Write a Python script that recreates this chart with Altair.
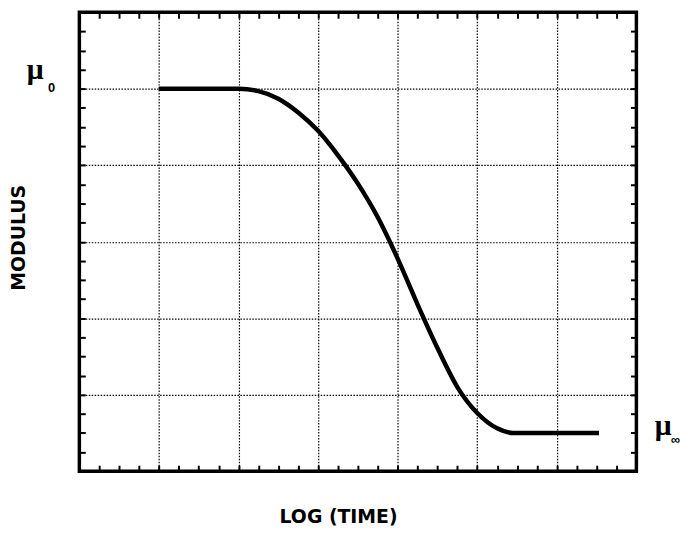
import altair as alt
import pandas as pd

# relaxation curve (log time vs modulus)
curve_x = [1.0, 2.0, 2.25, 2.5, 2.75, 3.0, 3.25, 3.5, 3.75, 4.0, 4.25, 4.5, 4.75, 5.0, 5.25, 5.45, 6.53]
curve_y = [5.0, 5.0, 4.97, 4.87, 4.69, 4.45, 4.13, 3.76, 3.32, 2.78, 2.18, 1.61, 1.1, 0.76, 0.56, 0.5, 0.5]

grid_x = [1, 2, 3, 4, 5, 6]
grid_y = [1, 2, 3, 4, 5]
tick_x = [i * 0.25 for i in range(1, 28)]
tick_y = [i * 0.25 for i in range(1, 24)]

# plot frame (data extent)
frame_x = [0]
frame_x2 = [7]
frame_y = [0]
frame_y2 = [6]

# labels: main symbol and subscript
mu_x = [-0.554, 7.335]
mu_y = [5.13, 0.47]
mu_text = ["μ", "μ"]
sub_x = [-0.35, 7.49]
sub_y = [4.96, 0.36]
sub_text = ["0", "∞"]

df = pd.DataFrame({"x": curve_x, "y": curve_y})
df_frame = pd.DataFrame({"x": frame_x, "x2": frame_x2, "y": frame_y, "y2": frame_y2})
df_mu = pd.DataFrame({"x": mu_x, "y": mu_y, "t": mu_text})
df_sub = pd.DataFrame({"x": sub_x, "y": sub_y, "t": sub_text})

xs = alt.Scale(domain=[0, 7], nice=False, zero=False)
ys = alt.Scale(domain=[0, 6], nice=False, zero=False)

title_style = dict(titleFont="DejaVu Sans", titleFontSize=19, titleFontWeight="bold",
                   titleColor="black", titleAlign="center", titleBaseline="alphabetic")

grid_common = dict(grid=True, gridDash=[1.5, 1.5], gridColor="black", gridWidth=1.2, gridOpacity=1,
                   ticks=False, labels=False, domain=False)

curve = alt.Chart(df).mark_line(color="black", strokeWidth=4.5, interpolate="monotone").encode(
    x=alt.X("x:Q", scale=xs,
            axis=alt.Axis(orient="bottom", values=grid_x, title="LOG (TIME)",
                          titleX=261, titleY=52, titleAngle=0, **title_style, **grid_common)),
    y=alt.Y("y:Q", scale=ys,
            axis=alt.Axis(orient="left", values=grid_y, title="MODULUS",
                          titleX=-55, titleY=227, titleAngle=270, **title_style, **grid_common)),
)

tick_common = dict(tickSize=6, tickWidth=2, tickColor="black", labels=False, domain=False,
                   grid=False, offset=-6, title=None)

ticks_bl = alt.Chart(df).mark_point(opacity=0).encode(
    x=alt.X("x:Q", scale=xs, axis=alt.Axis(orient="bottom", values=tick_x, **tick_common)),
    y=alt.Y("y:Q", scale=ys, axis=alt.Axis(orient="left", values=tick_y, **tick_common)),
)

ticks_tr = alt.Chart(df).mark_point(opacity=0).encode(
    x=alt.X("x:Q", scale=xs, axis=alt.Axis(orient="top", values=tick_x, **tick_common)),
    y=alt.Y("y:Q", scale=ys, axis=alt.Axis(orient="right", values=tick_y, **tick_common)),
)

frame = alt.Chart(df_frame).mark_rect(fillOpacity=0, stroke="black", strokeWidth=3.5).encode(
    x=alt.X("x:Q", scale=xs, axis=None),
    x2="x2:Q",
    y=alt.Y("y:Q", scale=ys, axis=None),
    y2="y2:Q",
)

mu = alt.Chart(df_mu).mark_text(font="Liberation Serif", fontSize=30, fontWeight="bold",
                                color="black", align="center", baseline="alphabetic").encode(
    x=alt.X("x:Q", scale=xs, axis=None),
    y=alt.Y("y:Q", scale=ys, axis=None),
    text="t:N")

sub = alt.Chart(df_sub).mark_text(font="Liberation Sans", fontSize=13, fontWeight="bold",
                                  color="black", align="center", baseline="alphabetic").encode(
    x=alt.X("x:Q", scale=xs, axis=None),
    y=alt.Y("y:Q", scale=ys, axis=None),
    text="t:N")

chart = alt.layer(curve, ticks_bl, ticks_tr, frame, mu, sub).resolve_axis(
    x="independent", y="independent"
).properties(
    width=562, height=463,
    autosize=alt.AutoSizeParams(type="none"),
    padding={"left": 72, "top": 2, "right": 44, "bottom": 54},
).configure_view(stroke=None).configure(background="white")

chart.save("out.html", embed_options={"renderer": "svg", "actions": False})
